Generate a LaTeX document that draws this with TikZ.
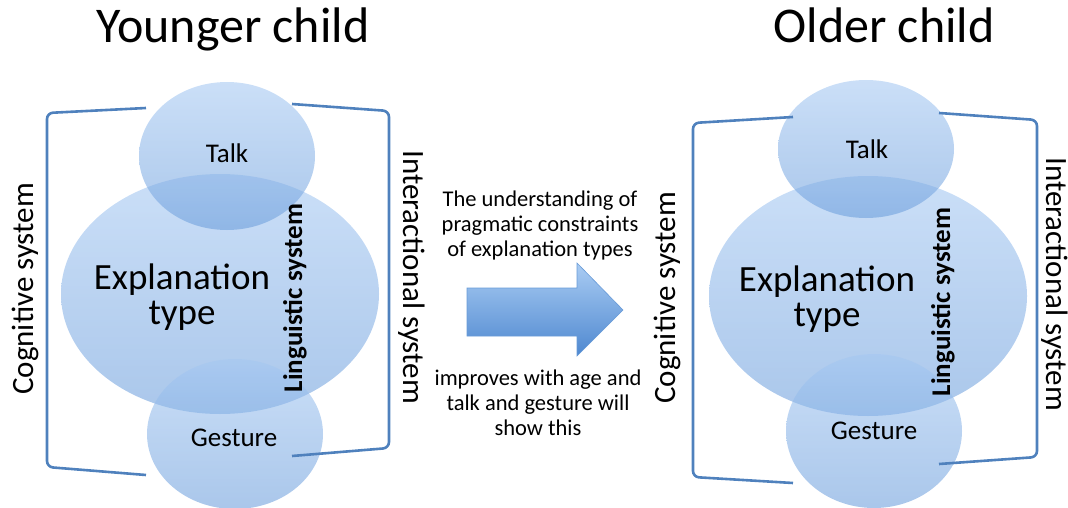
\documentclass[tikz,border=0pt]{standalone}
\usepackage{fontspec}
\setmainfont{Carlito}
\usetikzlibrary{shapes.geometric}
\definecolor{brk}{RGB}{79,129,189}
\definecolor{elltop}{RGB}{165,200,242}
\definecolor{ellbot}{RGB}{108,158,220}
\definecolor{arrtop}{RGB}{170,204,243}
\definecolor{arrbot}{RGB}{78,136,208}
\definecolor{arredge}{RGB}{105,155,215}
\tikzset{
  blob/.style={ellipse, inner sep=0pt, top color=elltop, bottom color=ellbot, fill opacity=0.58, draw=none},
  bracketline/.style={draw=brk, line width=2.6pt, rounded corners=6pt},
  title/.style={font=\fontsize{50}{60}\selectfont, anchor=base},
  small/.style={font=\fontsize{27}{30}\selectfont, anchor=base},
  big/.style={font=\fontsize{37}{35}\selectfont, align=center, anchor=base},
  sys/.style={font=\fontsize{31}{34}\selectfont, anchor=base},
  ling/.style={font=\fontsize{27}{30}\selectfont\bfseries, anchor=base, rotate=90},
  midtext/.style={font=\fontsize{22.5}{25}\selectfont, align=center, anchor=base}
}
\begin{document}
\begin{tikzpicture}[x=1pt,y=-1pt]
\useasboundingbox (0,0) rectangle (1068,508);
% ---------- left diagram ----------
\node[blob, minimum width=318, minimum height=240] (lexp) at (220,294) {};
\node[blob, minimum width=176, minimum height=148] (ltalk) at (227,156) {};
\node[blob, minimum width=176, minimum height=150] (lgest) at (235,434) {};
\coordinate (lb1) at (146,108); \coordinate (lb2) at (47,113);
\coordinate (lb3) at (47,467);  \coordinate (lb4) at (146,475);
\draw[bracketline] (lb1) -- (lb2) -- (lb3) -- (lb4);
\coordinate (rb1) at (292,104); \coordinate (rb2) at (389,111);
\coordinate (rb3) at (389,448); \coordinate (rb4) at (292,456);
\draw[bracketline] (rb1) -- (rb2) -- (rb3) -- (rb4);
\node[title] (ltitle) at (233,43) {Younger child};
\node[small] (ltalkt) at (227,163) {Talk};
\node[small] (lgestt) at (234,446) {Gesture};
\node[big] (lexpt) at (182,324) {Explanation\\type};
\node[sys, rotate=90] (lcog) at (33,289) {Cognitive system};
\node[sys, rotate=-90] (lint) at (403,277) {Interactional system};
\node[ling] (lling) at (302,298) {Linguistic system};
% ---------- middle ----------
\node[midtext] (mtop) at (540,256) {The understanding of\\pragmatic constraints\\of explanation types};
\shade[top color=arrtop, bottom color=arrbot, draw=arredge, line width=0.6pt]
  (467,288) -- (577,288) -- (577,263) -- (623,310) -- (577,356) -- (577,336) -- (467,336) -- cycle;
\node[midtext] (mbot) at (538,435) {improves with age and\\talk and gesture will\\show this};
% ---------- right diagram ----------
\node[blob, minimum width=318, minimum height=240] (rexp) at (868,296) {};
\node[blob, minimum width=176, minimum height=138] (rtalk) at (866,149) {};
\node[blob, minimum width=176, minimum height=154] (rgest) at (874,431) {};
\coordinate (rl1) at (793,117); \coordinate (rl2) at (693,123);
\coordinate (rl3) at (693,477); \coordinate (rl4) at (793,483);
\draw[bracketline] (rl1) -- (rl2) -- (rl3) -- (rl4);
\coordinate (rr1) at (939,113); \coordinate (rr2) at (1037,120);
\coordinate (rr3) at (1037,457); \coordinate (rr4) at (939,464);
\draw[bracketline] (rr1) -- (rr2) -- (rr3) -- (rr4);
\node[title] (rtitle) at (884,43) {Older child};
\node[small] (rtalkt) at (867,158) {Talk};
\node[small] (rgestt) at (874,439) {Gesture};
\node[big] (rexpt) at (827,326) {Explanation\\type};
\node[sys, rotate=90] (rcog) at (675,298) {Cognitive system};
\node[sys, rotate=-90] (rint) at (1046,284) {Interactional system};
\node[ling] (rling) at (950,302) {Linguistic system};
\end{tikzpicture}
\end{document}
